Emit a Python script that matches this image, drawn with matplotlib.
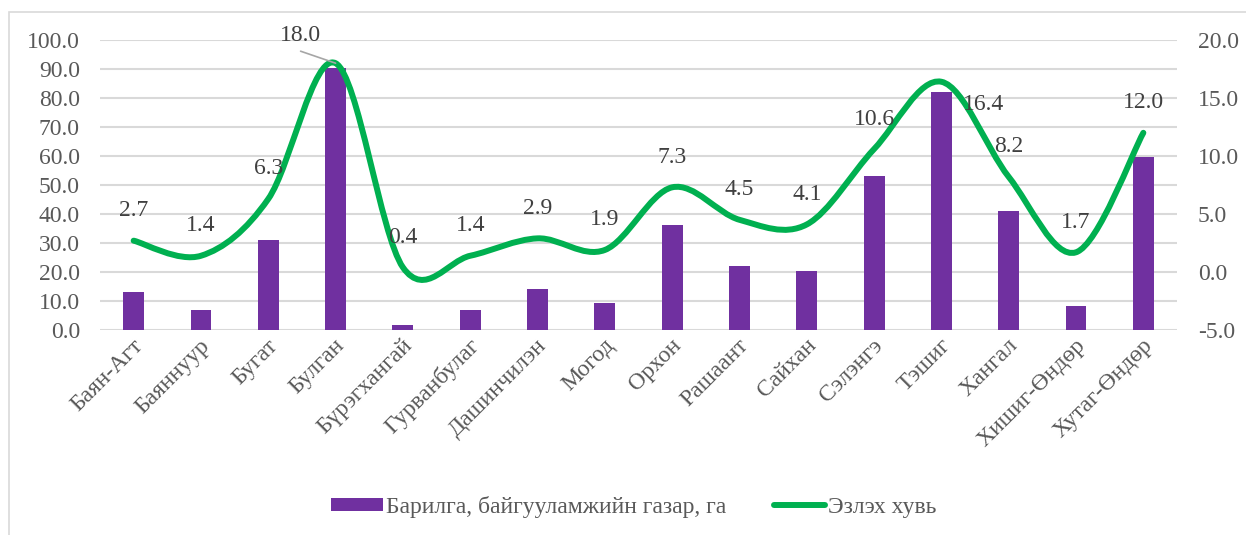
import matplotlib
matplotlib.use("Agg")
import matplotlib.pyplot as plt
import matplotlib.transforms as mtransforms
from matplotlib.path import Path
from matplotlib.patches import PathPatch, Rectangle
from matplotlib.lines import Line2D
import numpy as np

# Sums (soums) of Bulgan aimag
categories = ["Баян-Агт", "Баяннуур", "Бугат", "Булган", "Бүрэгхангай",
              "Гурванбулаг", "Дашинчилэн", "Могод", "Орхон", "Рашаант",
              "Сайхан", "Сэлэнгэ", "Тэшиг", "Хангал", "Хишиг-Өндөр",
              "Хутаг-Өндөр"]
# Built-up land area, ha
area_ha = [13.2, 6.9, 31.0, 90.2, 1.6, 6.9, 14.1, 9.4, 36.3, 22.2,
           20.4, 53.1, 82.2, 41.0, 8.2, 59.8]
# Share, %
share_pct = [2.7, 1.4, 6.3, 18.0, 0.4, 1.4, 2.9, 1.9, 7.3, 4.5,
             4.1, 10.6, 16.4, 8.2, 1.7, 12.0]

bar_label = "Барилга, байгууламжийн газар, га"
line_label = "Эзлэх хувь"

left_ticks = np.arange(0, 101, 10)
right_ticks = np.arange(-5, 21, 5)

PURPLE = "#7030A0"
GREEN = "#00B050"
GRID = "#D9D9D9"
TICK = "#595959"
LABEL = "#404040"
FS = 17

plt.rcParams["font.family"] = ["Liberation Serif", "DejaVu Serif"]

W, H = 1246, 535
fig = plt.figure(figsize=(W / 100, H / 100), dpi=100)

# chart frame
fig.patches.append(Rectangle((8.5 / W, -0.1), 1.2, 1 - 11.5 / H + 0.1,
                             transform=fig.transFigure, fill=False,
                             edgecolor=GRID, linewidth=1.2, zorder=0))

ax = fig.add_axes([100 / W, 1 - 330 / H, 1077 / W, 290 / H])
ax2 = ax.twinx()

x = np.arange(len(categories))
ax.bar(x, area_ha, width=0.31, color=PURPLE, zorder=2, label=bar_label)
ax.set_xlim(-0.5, len(categories) - 0.5)
ax.set_ylim(0, 100)
ax.set_yticks(left_ticks)
ax.set_yticklabels([f"{v:.1f}" for v in left_ticks])
ax.yaxis.grid(True, color=GRID, linewidth=1.5, zorder=0)
ax.set_axisbelow(True)
ax.set_xticks(x)
ax.set_xticklabels(categories, rotation=45, ha="right",
                   rotation_mode="anchor", va="center")
ax.tick_params(axis="x", length=0, pad=9, labelsize=FS, labelcolor=TICK)
ax.tick_params(axis="y", length=0, pad=14.4, labelsize=FS, labelcolor=TICK)
shift = mtransforms.ScaledTranslation(6 / 100, 0, fig.dpi_scale_trans)
for lbl in ax.get_xticklabels():
    lbl.set_transform(lbl.get_transform() + shift)

ax2.set_ylim(-5, 20)
ax2.set_yticks(right_ticks)
ax2.set_yticklabels([f"{v:.1f}" for v in right_ticks])
ax2.tick_params(axis="y", length=0, pad=15, labelsize=FS, labelcolor=TICK)

for a in (ax, ax2):
    for s in a.spines.values():
        s.set_visible(False)

# smoothed line: Catmull-Rom style cubic Bezier segments through the points
pts = np.column_stack([x, share_pct]).astype(float)
n = len(pts)
verts = [pts[0]]
codes = [Path.MOVETO]
for i in range(n - 1):
    p0 = pts[i - 1] if i > 0 else pts[i]
    p1 = pts[i]
    p2 = pts[i + 1]
    p3 = pts[i + 2] if i + 2 < n else pts[i + 1]
    c1 = p1 + (p2 - p0) / 6.0
    c2 = p2 - (p3 - p1) / 6.0
    verts += [c1, c2, p2]
    codes += [Path.CURVE4] * 3
ax2.add_patch(PathPatch(Path(verts, codes), facecolor="none",
                        edgecolor=GREEN, linewidth=4.3,
                        capstyle="round", joinstyle="round", zorder=3))

# value labels above the line points
offsets = {3: (-35, 28), 12: (42, -23)}
for i, v in enumerate(share_pct):
    dx, dy = offsets.get(i, (0, 30))
    ax2.annotate(f"{v:.1f}", xy=(i, v), xytext=(dx, dy),
                 textcoords="offset pixels", ha="center", va="center",
                 fontsize=FS, color=LABEL, zorder=4)
# leader line for the relocated peak label
ax2.annotate("", xy=(3, share_pct[3]), xytext=(-35, 12),
             textcoords="offset pixels",
             arrowprops=dict(arrowstyle="-", color="#A6A6A6", lw=1.2,
                             shrinkA=0, shrinkB=0))

handles = [Rectangle((0, 0), 1, 1, facecolor=PURPLE),
           Line2D([0], [0], color=GREEN, linewidth=4.3,
                  solid_capstyle="round")]
fig.legend(handles, [bar_label, line_label], loc="center",
           bbox_to_anchor=(634 / W, 1 - 507 / H), ncol=2, frameon=False,
           fontsize=FS, labelcolor=TICK, handlelength=2.2, handleheight=0.5,
           handletextpad=0.12, columnspacing=2.0)

fig.savefig("out.png", dpi=100)
